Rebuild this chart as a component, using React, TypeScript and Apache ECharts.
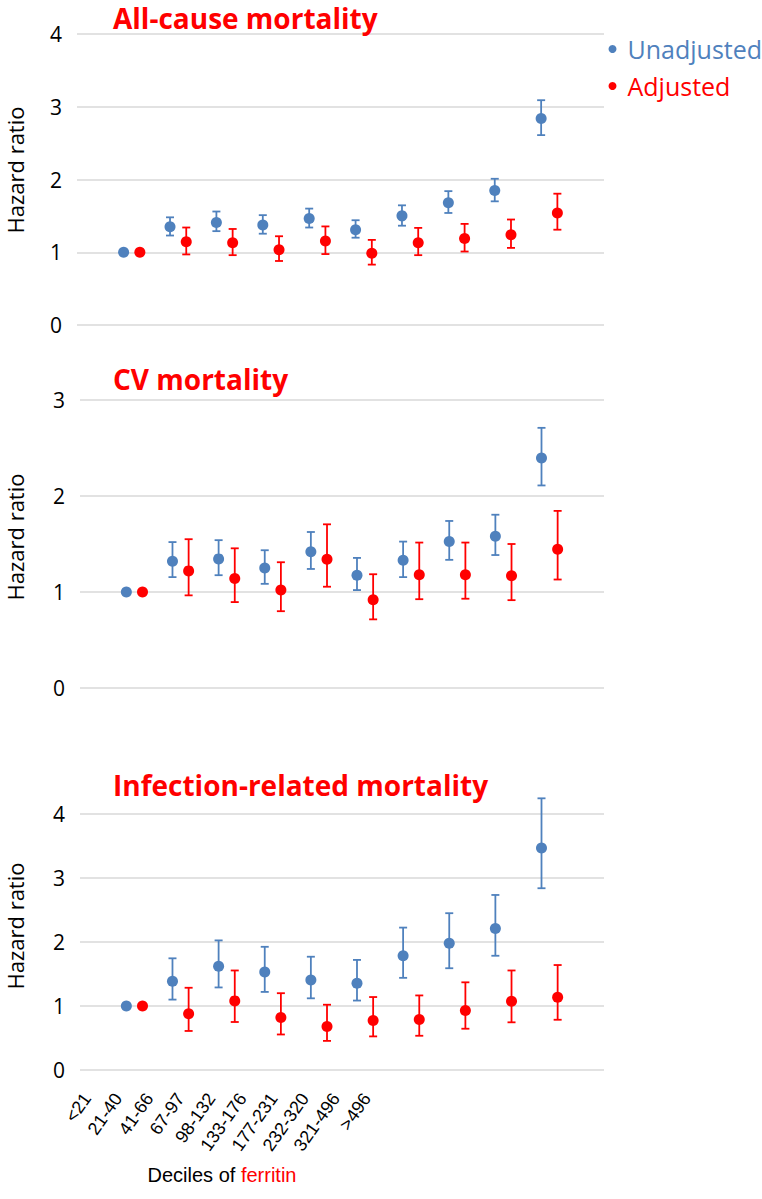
import React, { useEffect, useRef } from "react";
import * as echarts from "echarts";

const categories = ["<21", "21-40", "41-66", "67-97", "98-132", "133-176", "177-231", "232-320", "321-496", ">496"];

// All-cause mortality
const allUnadjHR = [1.0, 1.35, 1.41, 1.375, 1.465, 1.31, 1.5, 1.68, 1.85, 2.84];
const allUnadjLo = [1.0, 1.23, 1.29, 1.255, 1.34, 1.2, 1.365, 1.54, 1.7, 2.61];
const allUnadjHi = [1.0, 1.48, 1.56, 1.51, 1.6, 1.44, 1.645, 1.84, 2.01, 3.09];
const allAdjHR = [1.0, 1.145, 1.13, 1.035, 1.155, 0.985, 1.13, 1.19, 1.24, 1.54];
const allAdjLo = [1.0, 0.97, 0.96, 0.88, 0.975, 0.83, 0.96, 1.01, 1.06, 1.31];
const allAdjHi = [1.0, 1.34, 1.32, 1.22, 1.355, 1.17, 1.335, 1.39, 1.45, 1.805];

// CV mortality
const cvUnadjHR = [1.0, 1.32, 1.345, 1.25, 1.42, 1.175, 1.33, 1.525, 1.58, 2.395];
const cvUnadjLo = [1.0, 1.155, 1.175, 1.085, 1.24, 1.02, 1.155, 1.335, 1.385, 2.11];
const cvUnadjHi = [1.0, 1.52, 1.54, 1.435, 1.625, 1.355, 1.525, 1.74, 1.805, 2.71];
const cvAdjHR = [1.0, 1.22, 1.14, 1.02, 1.34, 0.92, 1.18, 1.18, 1.17, 1.445];
const cvAdjLo = [1.0, 0.965, 0.895, 0.8, 1.055, 0.715, 0.925, 0.93, 0.915, 1.13];
const cvAdjHi = [1.0, 1.55, 1.455, 1.31, 1.705, 1.185, 1.515, 1.515, 1.5, 1.845];

// Infection-related mortality
const infUnadjHR = [1.0, 1.385, 1.62, 1.53, 1.405, 1.355, 1.785, 1.98, 2.21, 3.47];
const infUnadjLo = [1.0, 1.1, 1.29, 1.22, 1.12, 1.085, 1.44, 1.59, 1.785, 2.84];
const infUnadjHi = [1.0, 1.745, 2.025, 1.925, 1.77, 1.72, 2.225, 2.45, 2.735, 4.245];
const infAdjHR = [1.0, 0.88, 1.08, 0.82, 0.68, 0.775, 0.79, 0.93, 1.075, 1.135];
const infAdjLo = [1.0, 0.61, 0.75, 0.555, 0.455, 0.525, 0.535, 0.645, 0.745, 0.785];
const infAdjHi = [1.0, 1.285, 1.555, 1.2, 1.02, 1.14, 1.165, 1.37, 1.555, 1.64];

const panelTitles = ["All-cause mortality", "CV mortality", "Infection-related mortality"];
const panelMax = [4, 3, 4];

const BLUE = "#4F81BD";
const RED = "#FF0000";
const OFF = 0.175;
const FONT = "Open Sans";

const panels = [
  { uHR: allUnadjHR, uLo: allUnadjLo, uHi: allUnadjHi, aHR: allAdjHR, aLo: allAdjLo, aHi: allAdjHi },
  { uHR: cvUnadjHR, uLo: cvUnadjLo, uHi: cvUnadjHi, aHR: cvAdjHR, aLo: cvAdjLo, aHi: cvAdjHi },
  { uHR: infUnadjHR, uLo: infUnadjLo, uHi: infUnadjHi, aHR: infAdjHR, aLo: infAdjLo, aHi: infAdjHi },
];

const gridBoxes = [
  { left: 77, width: 527, top: 34, height: 291 },
  { left: 80, width: 524, top: 400, height: 288 },
  { left: 80, width: 524, top: 814, height: 256 },
];
const titleTops = [2, 363, 769];
const yNameCenters = [170, 537, 926];

function errRender(color: string) {
  return (params: any, api: any) => {
    const x = api.value(0);
    const lo = api.value(1);
    const hi = api.value(2);
    if (lo === hi) return { type: "group", children: [] };
    const p1 = api.coord([x, lo]);
    const p2 = api.coord([x, hi]);
    const hw = 4;
    const style = { stroke: color, lineWidth: 1.8 };
    return {
      type: "group",
      children: [
        { type: "line", shape: { x1: p1[0], y1: p1[1], x2: p2[0], y2: p2[1] }, style },
        { type: "line", shape: { x1: p1[0] - hw, y1: p1[1], x2: p1[0] + hw, y2: p1[1] }, style },
        { type: "line", shape: { x1: p2[0] - hw, y1: p2[1], x2: p2[0] + hw, y2: p2[1] }, style },
      ],
    };
  };
}

export default function App() {
  const ref = useRef<HTMLDivElement>(null);
  useEffect(() => {
    if (!ref.current) return;
    const chart = echarts.init(ref.current, null, { renderer: "svg" });

    const grid: any[] = gridBoxes.map((g) => ({ ...g, containLabel: false }));
    grid.push({ left: 71.5, width: 311, top: 1077, height: 10 });

    const xAxis: any[] = gridBoxes.map((_, i) => ({
      type: "value",
      gridIndex: i,
      min: -1.18,
      max: 10.18,
      show: false,
      splitLine: { show: false },
    }));
    xAxis.push({
      type: "category",
      gridIndex: 3,
      data: categories,
      axisLine: { show: false },
      axisTick: { show: false },
      axisLabel: {
        rotate: 55,
        margin: 8,
        interval: 0,
        fontSize: 18,
        fontFamily: "Liberation Sans",
        color: "#000",
      },
    });

    const yAxis: any[] = gridBoxes.map((_, i) => ({
      type: "value",
      gridIndex: i,
      min: 0,
      max: panelMax[i],
      interval: 1,
      axisLine: { show: false },
      axisTick: { show: false },
      axisLabel: { fontSize: 21, fontFamily: FONT, color: "#000", margin: 15 },
      splitLine: { lineStyle: { color: "#D9D9D9", width: 1.5 } },
    }));
    yAxis.push({ type: "value", gridIndex: 3, show: false });

    const series: any[] = [];
    panels.forEach((p, i) => {
      series.push({
        type: "custom",
        name: "Unadjusted",
        xAxisIndex: i,
        yAxisIndex: i,
        renderItem: errRender(BLUE),
        itemStyle: { color: BLUE },
        data: p.uLo.map((l, k) => [k - OFF, l, p.uHi[k]]),
        encode: { x: 0, y: [1, 2] },
        z: 2,
        silent: true,
      });
      series.push({
        type: "custom",
        name: "Adjusted",
        xAxisIndex: i,
        yAxisIndex: i,
        renderItem: errRender(RED),
        itemStyle: { color: RED },
        data: p.aLo.map((l, k) => [k + OFF, l, p.aHi[k]]),
        encode: { x: 0, y: [1, 2] },
        z: 2,
        silent: true,
      });
      series.push({
        type: "scatter",
        name: "Unadjusted",
        xAxisIndex: i,
        yAxisIndex: i,
        symbol: "circle",
        symbolSize: 11,
        itemStyle: { color: BLUE, opacity: 1 },
        data: p.uHR.map((v, k) => [k - OFF, v]),
        z: 3,
      });
      series.push({
        type: "scatter",
        name: "Adjusted",
        xAxisIndex: i,
        yAxisIndex: i,
        symbol: "circle",
        symbolSize: 11,
        itemStyle: { color: RED, opacity: 1 },
        data: p.aHR.map((v, k) => [k + OFF, v]),
        z: 3,
      });
    });

    const title = panelTitles.map((t, i) => ({
      text: t,
      left: 113,
      top: titleTops[i],
      padding: 0,
      textStyle: { color: RED, fontSize: 28, lineHeight: 32, fontWeight: "bold", fontFamily: FONT },
    }));

    const graphic: any[] = yNameCenters.map((cy) => ({
      type: "text",
      x: 15,
      y: cy,
      rotation: Math.PI / 2,
      style: {
        text: "Hazard ratio",
        fontSize: 22,
        fontFamily: FONT,
        fill: "#000",
        align: "center",
        verticalAlign: "middle",
      },
    }));
    graphic.push({
      type: "text",
      x: 222,
      y: 1175,
      style: {
        text: "{a|Deciles of }{b|ferritin}",
        align: "center",
        verticalAlign: "middle",
        rich: {
          a: { fontSize: 20, fontFamily: "Liberation Sans", fill: "#000" },
          b: { fontSize: 20, fontFamily: "Liberation Sans", fill: RED },
        },
      },
    });

    chart.setOption({
      animation: false,
      backgroundColor: "#fff",
      title,
      legend: {
        orient: "vertical",
        left: 608.5,
        top: 36.5,
        padding: 0,
        itemGap: 12,
        itemWidth: 8,
        itemHeight: 8,
        icon: "circle",
        data: [
          { name: "Unadjusted", textStyle: { color: BLUE }, itemStyle: { color: BLUE } },
          { name: "Adjusted", textStyle: { color: RED }, itemStyle: { color: RED } },
        ],
        textStyle: { fontSize: 25, fontFamily: FONT, padding: [0, 0, 0, 6] },
        selectedMode: false,
      },
      grid,
      xAxis,
      yAxis,
      series,
      graphic,
    });
    return () => chart.dispose();
  }, []);
  return (
    <div
      ref={ref}
      style={{ position: "absolute", left: 0, top: 0, width: 762, height: 1199 }}
    />
  );
}
